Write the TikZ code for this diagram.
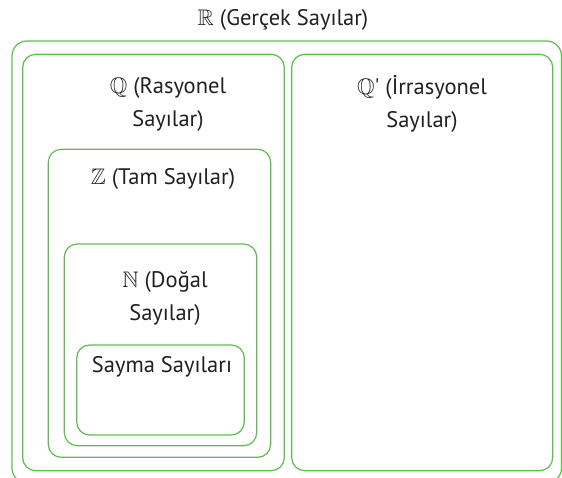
\documentclass[tikz,border=0pt]{standalone}
\usepackage{amssymb}
\usepackage{fontspec}
\setmainfont{PT Sans}
\usetikzlibrary{positioning}
\definecolor{SetGreen}{RGB}{92,190,78}
\definecolor{TextGrey}{RGB}{35,31,32}

\begin{document}
\begin{tikzpicture}[x=1pt, y=-1pt,
    setbox/.style={SetGreen, line width=1.2pt, rounded corners=13pt},
    settext/.style={TextGrey, inner sep=0pt, align=center, font=\fontsize{22.5}{33}\selectfont}]
    \useasboundingbox (0,0) rectangle (562,478);
    \clip (0,0) rectangle (562,478);
    % Sets, outer to inner
    \draw[setbox, rounded corners=15pt] (12,41) rectangle (561.5,483);
    \draw[setbox] (22.7,54.3) rectangle (284.3,470.7);
    \draw[setbox] (291.7,54.3) rectangle (552.7,470.7);
    \draw[setbox] (48.3,149.3) rectangle (270.7,457.3);
    \draw[setbox] (64.3,244) rectangle (256.7,445.7);
    \draw[setbox] (76.7,345) rectangle (244.3,435);
    % Names of the sets
    \node[settext] (real) at (283,20) {$\mathbb{R}$ (Gerçek Sayılar)};
    \node[settext] (rational) at (168,104) {$\mathbb{Q}$ (Rasyonel\\Sayılar)};
    \node[settext] (irrational) at (422,104) {$\mathbb{Q}$\textquotesingle{} (İrrasyonel\\Sayılar)};
    \node[settext] (integer) at (163,179) {$\mathbb{Z}$ (Tam Sayılar)};
    \node[settext] (natural) at (165,298) {$\mathbb{N}$ (Doğal\\Sayılar)};
    \node[settext] (counting) at (162,367) {Sayma Sayıları};
\end{tikzpicture}
\end{document}
